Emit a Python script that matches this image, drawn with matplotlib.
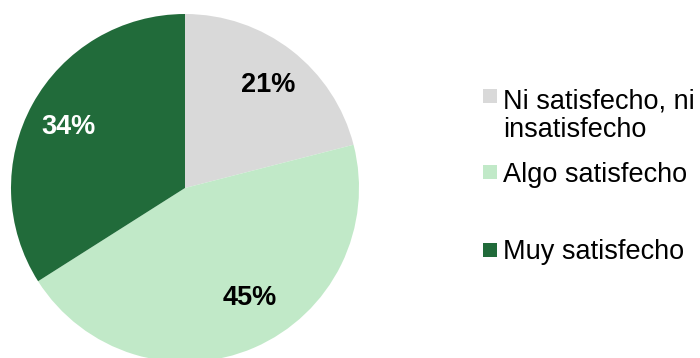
import matplotlib.pyplot as plt
from matplotlib.patches import Rectangle

plt.rcParams['font.family'] = ['Liberation Sans', 'DejaVu Sans']

# niveles de satisfaccion (%)
categorias = ["Ni satisfecho, ni\ninsatisfecho", "Algo satisfecho", "Muy satisfecho"]
valores = [21, 45, 34]
colores = ["#D9D9D9", "#C1E9C8", "#216B3A"]
color_texto = ["black", "black", "white"]

W, H = 700, 358
fig = plt.figure(figsize=(W / 100, H / 100), dpi=100)

# pastel: centro (185, 188) px, radio 174 px
cx, cy, r = 185, 188, 174
ax = fig.add_axes([(cx - r) / W, (H - cy - r) / H, 2 * r / W, 2 * r / H])
wedges, _, autotexts = ax.pie(
    valores,
    colors=colores,
    startangle=90,
    counterclock=False,
    radius=1.0,
    autopct=lambda p: f"{p:.0f}%",
    pctdistance=0.76,
    wedgeprops=dict(linewidth=0),
)
# posiciones de las etiquetas (coordenadas del eje, radio = 1)
pos_etiquetas = [(0.48, 0.59), (0.374, -0.632), (-0.672, 0.35)]
for t, c, p in zip(autotexts, color_texto, pos_etiquetas):
    t.set_color(c)
    t.set_fontsize(19.5)
    t.set_fontweight("bold")
    t.set_position(p)
ax.set_xlim(-1, 1)
ax.set_ylim(-1, 1)
ax.set_aspect("equal")
ax.axis("off")

# leyenda a mano (espaciado como el original)
y_cuadros = [96, 172, 250]
y_base = [108, 182, 259]
salto = 29  # px entre lineas de una misma entrada
for yc, yb, lab, col in zip(y_cuadros, y_base, categorias, colores):
    fig.patches.append(Rectangle((483 / W, 1 - (yc + 7) / H), 14 / W, 14 / H,
                                 transform=fig.transFigure, facecolor=col,
                                 edgecolor="none"))
    for i, linea in enumerate(lab.split("\n")):
        fig.text(503 / W, 1 - (yb + i * salto) / H, linea, fontsize=19.5,
                 va="baseline", ha="left", color="black")

fig.savefig("out.png", dpi=100)
